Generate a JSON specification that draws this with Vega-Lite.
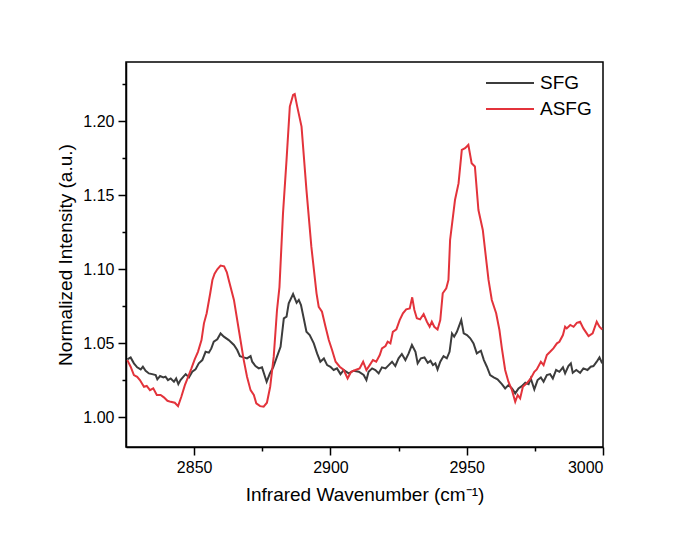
{
  "$schema": "https://vega.github.io/schema/vega-lite/v6.json",
  "width": 477,
  "height": 385,
  "autosize": {"type": "none"},
  "padding": {"left": 126, "top": 62, "right": 97, "bottom": 89},
  "background": "white",
  "datasets": {
    "spectra": [
      {"w": 2825.5, "v": 1.0392, "s": "SFG"},
      {"w": 2826.7, "v": 1.0405, "s": "SFG"},
      {"w": 2827.9, "v": 1.0365, "s": "SFG"},
      {"w": 2829.1, "v": 1.0338, "s": "SFG"},
      {"w": 2830.4, "v": 1.0324, "s": "SFG"},
      {"w": 2831.2, "v": 1.0342, "s": "SFG"},
      {"w": 2832.2, "v": 1.0315, "s": "SFG"},
      {"w": 2833.4, "v": 1.0297, "s": "SFG"},
      {"w": 2834.6, "v": 1.0292, "s": "SFG"},
      {"w": 2835.9, "v": 1.0286, "s": "SFG"},
      {"w": 2836.5, "v": 1.0257, "s": "SFG"},
      {"w": 2837.5, "v": 1.0279, "s": "SFG"},
      {"w": 2838.7, "v": 1.027, "s": "SFG"},
      {"w": 2839.5, "v": 1.0275, "s": "SFG"},
      {"w": 2840.4, "v": 1.0252, "s": "SFG"},
      {"w": 2841.4, "v": 1.0263, "s": "SFG"},
      {"w": 2842.6, "v": 1.0241, "s": "SFG"},
      {"w": 2843.4, "v": 1.0263, "s": "SFG"},
      {"w": 2844.2, "v": 1.0225, "s": "SFG"},
      {"w": 2845.0, "v": 1.0252, "s": "SFG"},
      {"w": 2846.0, "v": 1.0274, "s": "SFG"},
      {"w": 2846.9, "v": 1.0292, "s": "SFG"},
      {"w": 2848.1, "v": 1.027, "s": "SFG"},
      {"w": 2849.3, "v": 1.0308, "s": "SFG"},
      {"w": 2850.5, "v": 1.0324, "s": "SFG"},
      {"w": 2851.7, "v": 1.0365, "s": "SFG"},
      {"w": 2853.0, "v": 1.0387, "s": "SFG"},
      {"w": 2854.2, "v": 1.0443, "s": "SFG"},
      {"w": 2855.4, "v": 1.0437, "s": "SFG"},
      {"w": 2856.3, "v": 1.0466, "s": "SFG"},
      {"w": 2857.2, "v": 1.0511, "s": "SFG"},
      {"w": 2858.5, "v": 1.0527, "s": "SFG"},
      {"w": 2859.7, "v": 1.0567, "s": "SFG"},
      {"w": 2860.9, "v": 1.0545, "s": "SFG"},
      {"w": 2862.7, "v": 1.0522, "s": "SFG"},
      {"w": 2864.6, "v": 1.0489, "s": "SFG"},
      {"w": 2865.8, "v": 1.0455, "s": "SFG"},
      {"w": 2866.8, "v": 1.0414, "s": "SFG"},
      {"w": 2868.2, "v": 1.0405, "s": "SFG"},
      {"w": 2869.4, "v": 1.0398, "s": "SFG"},
      {"w": 2870.7, "v": 1.0414, "s": "SFG"},
      {"w": 2871.3, "v": 1.0376, "s": "SFG"},
      {"w": 2872.5, "v": 1.0347, "s": "SFG"},
      {"w": 2873.7, "v": 1.0331, "s": "SFG"},
      {"w": 2874.9, "v": 1.0338, "s": "SFG"},
      {"w": 2875.8, "v": 1.0286, "s": "SFG"},
      {"w": 2876.6, "v": 1.0241, "s": "SFG"},
      {"w": 2877.8, "v": 1.0297, "s": "SFG"},
      {"w": 2879.0, "v": 1.0338, "s": "SFG"},
      {"w": 2880.4, "v": 1.041, "s": "SFG"},
      {"w": 2881.7, "v": 1.0477, "s": "SFG"},
      {"w": 2882.9, "v": 1.0669, "s": "SFG"},
      {"w": 2883.9, "v": 1.068, "s": "SFG"},
      {"w": 2884.7, "v": 1.077, "s": "SFG"},
      {"w": 2886.3, "v": 1.0833, "s": "SFG"},
      {"w": 2887.6, "v": 1.0774, "s": "SFG"},
      {"w": 2888.4, "v": 1.0793, "s": "SFG"},
      {"w": 2889.2, "v": 1.0759, "s": "SFG"},
      {"w": 2890.2, "v": 1.0669, "s": "SFG"},
      {"w": 2891.2, "v": 1.0578, "s": "SFG"},
      {"w": 2892.4, "v": 1.0556, "s": "SFG"},
      {"w": 2893.9, "v": 1.05, "s": "SFG"},
      {"w": 2895.1, "v": 1.0432, "s": "SFG"},
      {"w": 2896.3, "v": 1.0376, "s": "SFG"},
      {"w": 2897.6, "v": 1.0398, "s": "SFG"},
      {"w": 2898.8, "v": 1.0353, "s": "SFG"},
      {"w": 2900.0, "v": 1.0342, "s": "SFG"},
      {"w": 2901.2, "v": 1.032, "s": "SFG"},
      {"w": 2902.4, "v": 1.0331, "s": "SFG"},
      {"w": 2903.7, "v": 1.0292, "s": "SFG"},
      {"w": 2904.9, "v": 1.032, "s": "SFG"},
      {"w": 2906.7, "v": 1.0297, "s": "SFG"},
      {"w": 2908.5, "v": 1.0315, "s": "SFG"},
      {"w": 2910.4, "v": 1.0308, "s": "SFG"},
      {"w": 2912.2, "v": 1.0286, "s": "SFG"},
      {"w": 2913.2, "v": 1.0252, "s": "SFG"},
      {"w": 2914.0, "v": 1.0308, "s": "SFG"},
      {"w": 2915.3, "v": 1.0331, "s": "SFG"},
      {"w": 2916.5, "v": 1.032, "s": "SFG"},
      {"w": 2917.7, "v": 1.0297, "s": "SFG"},
      {"w": 2918.9, "v": 1.0338, "s": "SFG"},
      {"w": 2920.2, "v": 1.0331, "s": "SFG"},
      {"w": 2921.4, "v": 1.0353, "s": "SFG"},
      {"w": 2922.6, "v": 1.0376, "s": "SFG"},
      {"w": 2923.8, "v": 1.0347, "s": "SFG"},
      {"w": 2925.0, "v": 1.0399, "s": "SFG"},
      {"w": 2926.2, "v": 1.0428, "s": "SFG"},
      {"w": 2927.5, "v": 1.0387, "s": "SFG"},
      {"w": 2928.7, "v": 1.0432, "s": "SFG"},
      {"w": 2929.9, "v": 1.0489, "s": "SFG"},
      {"w": 2931.2, "v": 1.0443, "s": "SFG"},
      {"w": 2932.0, "v": 1.0365, "s": "SFG"},
      {"w": 2933.2, "v": 1.0399, "s": "SFG"},
      {"w": 2934.5, "v": 1.0405, "s": "SFG"},
      {"w": 2935.7, "v": 1.0369, "s": "SFG"},
      {"w": 2936.7, "v": 1.0382, "s": "SFG"},
      {"w": 2937.6, "v": 1.0353, "s": "SFG"},
      {"w": 2938.5, "v": 1.0365, "s": "SFG"},
      {"w": 2939.3, "v": 1.0324, "s": "SFG"},
      {"w": 2940.3, "v": 1.0376, "s": "SFG"},
      {"w": 2941.5, "v": 1.0414, "s": "SFG"},
      {"w": 2942.7, "v": 1.0399, "s": "SFG"},
      {"w": 2943.7, "v": 1.0443, "s": "SFG"},
      {"w": 2944.6, "v": 1.0567, "s": "SFG"},
      {"w": 2945.4, "v": 1.0545, "s": "SFG"},
      {"w": 2946.4, "v": 1.0578, "s": "SFG"},
      {"w": 2948.0, "v": 1.0657, "s": "SFG"},
      {"w": 2948.9, "v": 1.0567, "s": "SFG"},
      {"w": 2950.1, "v": 1.0556, "s": "SFG"},
      {"w": 2951.3, "v": 1.0534, "s": "SFG"},
      {"w": 2952.5, "v": 1.05, "s": "SFG"},
      {"w": 2953.7, "v": 1.0432, "s": "SFG"},
      {"w": 2955.2, "v": 1.045, "s": "SFG"},
      {"w": 2956.3, "v": 1.0387, "s": "SFG"},
      {"w": 2957.4, "v": 1.0342, "s": "SFG"},
      {"w": 2958.6, "v": 1.0286, "s": "SFG"},
      {"w": 2959.9, "v": 1.027, "s": "SFG"},
      {"w": 2961.3, "v": 1.0257, "s": "SFG"},
      {"w": 2962.9, "v": 1.0225, "s": "SFG"},
      {"w": 2964.1, "v": 1.0196, "s": "SFG"},
      {"w": 2965.3, "v": 1.0218, "s": "SFG"},
      {"w": 2966.6, "v": 1.0196, "s": "SFG"},
      {"w": 2967.8, "v": 1.0162, "s": "SFG"},
      {"w": 2969.0, "v": 1.0196, "s": "SFG"},
      {"w": 2970.2, "v": 1.0211, "s": "SFG"},
      {"w": 2971.5, "v": 1.0234, "s": "SFG"},
      {"w": 2972.7, "v": 1.0225, "s": "SFG"},
      {"w": 2973.5, "v": 1.0263, "s": "SFG"},
      {"w": 2974.8, "v": 1.0189, "s": "SFG"},
      {"w": 2976.0, "v": 1.0252, "s": "SFG"},
      {"w": 2977.2, "v": 1.027, "s": "SFG"},
      {"w": 2978.2, "v": 1.0241, "s": "SFG"},
      {"w": 2979.4, "v": 1.0286, "s": "SFG"},
      {"w": 2980.6, "v": 1.0292, "s": "SFG"},
      {"w": 2981.6, "v": 1.0263, "s": "SFG"},
      {"w": 2982.8, "v": 1.032, "s": "SFG"},
      {"w": 2984.0, "v": 1.0308, "s": "SFG"},
      {"w": 2985.3, "v": 1.0338, "s": "SFG"},
      {"w": 2986.1, "v": 1.0297, "s": "SFG"},
      {"w": 2987.3, "v": 1.0347, "s": "SFG"},
      {"w": 2988.2, "v": 1.0365, "s": "SFG"},
      {"w": 2988.9, "v": 1.0301, "s": "SFG"},
      {"w": 2990.2, "v": 1.032, "s": "SFG"},
      {"w": 2991.6, "v": 1.0301, "s": "SFG"},
      {"w": 2992.8, "v": 1.0331, "s": "SFG"},
      {"w": 2994.3, "v": 1.032, "s": "SFG"},
      {"w": 2995.5, "v": 1.0342, "s": "SFG"},
      {"w": 2996.5, "v": 1.0347, "s": "SFG"},
      {"w": 2997.7, "v": 1.0376, "s": "SFG"},
      {"w": 2998.7, "v": 1.0405, "s": "SFG"},
      {"w": 2999.7, "v": 1.0365, "s": "SFG"},

      {"w": 2825.5, "v": 1.0387, "s": "ASFG"},
      {"w": 2826.7, "v": 1.0342, "s": "ASFG"},
      {"w": 2827.9, "v": 1.0286, "s": "ASFG"},
      {"w": 2829.1, "v": 1.0274, "s": "ASFG"},
      {"w": 2830.1, "v": 1.0252, "s": "ASFG"},
      {"w": 2831.6, "v": 1.0207, "s": "ASFG"},
      {"w": 2832.6, "v": 1.0212, "s": "ASFG"},
      {"w": 2833.8, "v": 1.0184, "s": "ASFG"},
      {"w": 2835.0, "v": 1.0196, "s": "ASFG"},
      {"w": 2836.3, "v": 1.0151, "s": "ASFG"},
      {"w": 2837.7, "v": 1.0151, "s": "ASFG"},
      {"w": 2838.9, "v": 1.0135, "s": "ASFG"},
      {"w": 2840.2, "v": 1.0112, "s": "ASFG"},
      {"w": 2841.4, "v": 1.0105, "s": "ASFG"},
      {"w": 2842.9, "v": 1.0099, "s": "ASFG"},
      {"w": 2844.1, "v": 1.0076, "s": "ASFG"},
      {"w": 2845.3, "v": 1.0139, "s": "ASFG"},
      {"w": 2846.6, "v": 1.0218, "s": "ASFG"},
      {"w": 2847.8, "v": 1.0274, "s": "ASFG"},
      {"w": 2849.0, "v": 1.0331, "s": "ASFG"},
      {"w": 2850.2, "v": 1.0392, "s": "ASFG"},
      {"w": 2851.4, "v": 1.0443, "s": "ASFG"},
      {"w": 2852.7, "v": 1.0522, "s": "ASFG"},
      {"w": 2853.6, "v": 1.0635, "s": "ASFG"},
      {"w": 2854.6, "v": 1.0703, "s": "ASFG"},
      {"w": 2855.9, "v": 1.0838, "s": "ASFG"},
      {"w": 2856.7, "v": 1.0928, "s": "ASFG"},
      {"w": 2857.5, "v": 1.097, "s": "ASFG"},
      {"w": 2858.5, "v": 1.1, "s": "ASFG"},
      {"w": 2859.7, "v": 1.1025, "s": "ASFG"},
      {"w": 2861.0, "v": 1.102, "s": "ASFG"},
      {"w": 2862.0, "v": 1.098, "s": "ASFG"},
      {"w": 2862.7, "v": 1.0928, "s": "ASFG"},
      {"w": 2864.6, "v": 1.0793, "s": "ASFG"},
      {"w": 2866.4, "v": 1.059, "s": "ASFG"},
      {"w": 2868.2, "v": 1.0387, "s": "ASFG"},
      {"w": 2869.4, "v": 1.0274, "s": "ASFG"},
      {"w": 2870.7, "v": 1.0184, "s": "ASFG"},
      {"w": 2871.9, "v": 1.0151, "s": "ASFG"},
      {"w": 2872.8, "v": 1.0095, "s": "ASFG"},
      {"w": 2874.2, "v": 1.0076, "s": "ASFG"},
      {"w": 2875.5, "v": 1.0072, "s": "ASFG"},
      {"w": 2876.7, "v": 1.0099, "s": "ASFG"},
      {"w": 2877.9, "v": 1.0207, "s": "ASFG"},
      {"w": 2879.2, "v": 1.041, "s": "ASFG"},
      {"w": 2880.4, "v": 1.0725, "s": "ASFG"},
      {"w": 2881.3, "v": 1.088, "s": "ASFG"},
      {"w": 2882.6, "v": 1.1378, "s": "ASFG"},
      {"w": 2883.9, "v": 1.1739, "s": "ASFG"},
      {"w": 2885.1, "v": 1.2099, "s": "ASFG"},
      {"w": 2886.3, "v": 1.2178, "s": "ASFG"},
      {"w": 2886.9, "v": 1.2184, "s": "ASFG"},
      {"w": 2887.8, "v": 1.21, "s": "ASFG"},
      {"w": 2889.4, "v": 1.1964, "s": "ASFG"},
      {"w": 2891.2, "v": 1.1536, "s": "ASFG"},
      {"w": 2893.0, "v": 1.1153, "s": "ASFG"},
      {"w": 2894.9, "v": 1.0838, "s": "ASFG"},
      {"w": 2895.7, "v": 1.0747, "s": "ASFG"},
      {"w": 2896.9, "v": 1.0714, "s": "ASFG"},
      {"w": 2898.2, "v": 1.0612, "s": "ASFG"},
      {"w": 2899.4, "v": 1.0522, "s": "ASFG"},
      {"w": 2900.6, "v": 1.0455, "s": "ASFG"},
      {"w": 2901.9, "v": 1.0376, "s": "ASFG"},
      {"w": 2903.4, "v": 1.0342, "s": "ASFG"},
      {"w": 2904.9, "v": 1.032, "s": "ASFG"},
      {"w": 2906.3, "v": 1.0263, "s": "ASFG"},
      {"w": 2907.6, "v": 1.0308, "s": "ASFG"},
      {"w": 2909.2, "v": 1.032, "s": "ASFG"},
      {"w": 2910.7, "v": 1.0331, "s": "ASFG"},
      {"w": 2912.0, "v": 1.0376, "s": "ASFG"},
      {"w": 2913.2, "v": 1.032, "s": "ASFG"},
      {"w": 2914.4, "v": 1.0353, "s": "ASFG"},
      {"w": 2915.6, "v": 1.0387, "s": "ASFG"},
      {"w": 2916.8, "v": 1.0376, "s": "ASFG"},
      {"w": 2918.1, "v": 1.0421, "s": "ASFG"},
      {"w": 2918.9, "v": 1.0466, "s": "ASFG"},
      {"w": 2920.2, "v": 1.0482, "s": "ASFG"},
      {"w": 2921.0, "v": 1.0511, "s": "ASFG"},
      {"w": 2922.0, "v": 1.05, "s": "ASFG"},
      {"w": 2922.9, "v": 1.0578, "s": "ASFG"},
      {"w": 2924.2, "v": 1.0594, "s": "ASFG"},
      {"w": 2925.4, "v": 1.0657, "s": "ASFG"},
      {"w": 2926.6, "v": 1.0703, "s": "ASFG"},
      {"w": 2927.8, "v": 1.073, "s": "ASFG"},
      {"w": 2929.1, "v": 1.0736, "s": "ASFG"},
      {"w": 2930.0, "v": 1.0811, "s": "ASFG"},
      {"w": 2930.8, "v": 1.0725, "s": "ASFG"},
      {"w": 2931.7, "v": 1.0669, "s": "ASFG"},
      {"w": 2932.9, "v": 1.0662, "s": "ASFG"},
      {"w": 2934.2, "v": 1.0698, "s": "ASFG"},
      {"w": 2935.4, "v": 1.0646, "s": "ASFG"},
      {"w": 2936.4, "v": 1.0612, "s": "ASFG"},
      {"w": 2937.2, "v": 1.0646, "s": "ASFG"},
      {"w": 2938.1, "v": 1.0612, "s": "ASFG"},
      {"w": 2939.3, "v": 1.0594, "s": "ASFG"},
      {"w": 2940.3, "v": 1.0657, "s": "ASFG"},
      {"w": 2941.2, "v": 1.0838, "s": "ASFG"},
      {"w": 2942.5, "v": 1.0872, "s": "ASFG"},
      {"w": 2943.3, "v": 1.0928, "s": "ASFG"},
      {"w": 2943.9, "v": 1.1198, "s": "ASFG"},
      {"w": 2945.7, "v": 1.1468, "s": "ASFG"},
      {"w": 2947.0, "v": 1.158, "s": "ASFG"},
      {"w": 2948.2, "v": 1.1806, "s": "ASFG"},
      {"w": 2949.4, "v": 1.1818, "s": "ASFG"},
      {"w": 2950.6, "v": 1.184, "s": "ASFG"},
      {"w": 2951.8, "v": 1.1716, "s": "ASFG"},
      {"w": 2953.0, "v": 1.1694, "s": "ASFG"},
      {"w": 2954.3, "v": 1.14, "s": "ASFG"},
      {"w": 2955.9, "v": 1.1266, "s": "ASFG"},
      {"w": 2957.3, "v": 1.104, "s": "ASFG"},
      {"w": 2958.0, "v": 1.0928, "s": "ASFG"},
      {"w": 2959.2, "v": 1.0793, "s": "ASFG"},
      {"w": 2960.8, "v": 1.0703, "s": "ASFG"},
      {"w": 2962.0, "v": 1.059, "s": "ASFG"},
      {"w": 2962.9, "v": 1.0466, "s": "ASFG"},
      {"w": 2964.1, "v": 1.032, "s": "ASFG"},
      {"w": 2965.3, "v": 1.0241, "s": "ASFG"},
      {"w": 2966.6, "v": 1.0184, "s": "ASFG"},
      {"w": 2967.8, "v": 1.0105, "s": "ASFG"},
      {"w": 2968.7, "v": 1.0151, "s": "ASFG"},
      {"w": 2969.6, "v": 1.0128, "s": "ASFG"},
      {"w": 2970.6, "v": 1.0207, "s": "ASFG"},
      {"w": 2972.0, "v": 1.023, "s": "ASFG"},
      {"w": 2973.5, "v": 1.0263, "s": "ASFG"},
      {"w": 2974.8, "v": 1.0308, "s": "ASFG"},
      {"w": 2975.7, "v": 1.0324, "s": "ASFG"},
      {"w": 2977.2, "v": 1.0376, "s": "ASFG"},
      {"w": 2978.2, "v": 1.0353, "s": "ASFG"},
      {"w": 2979.4, "v": 1.0421, "s": "ASFG"},
      {"w": 2980.6, "v": 1.0443, "s": "ASFG"},
      {"w": 2981.8, "v": 1.0466, "s": "ASFG"},
      {"w": 2983.1, "v": 1.05, "s": "ASFG"},
      {"w": 2984.0, "v": 1.0511, "s": "ASFG"},
      {"w": 2985.3, "v": 1.0556, "s": "ASFG"},
      {"w": 2986.1, "v": 1.0612, "s": "ASFG"},
      {"w": 2986.7, "v": 1.0601, "s": "ASFG"},
      {"w": 2988.0, "v": 1.0624, "s": "ASFG"},
      {"w": 2989.2, "v": 1.0612, "s": "ASFG"},
      {"w": 2990.4, "v": 1.0639, "s": "ASFG"},
      {"w": 2991.6, "v": 1.0646, "s": "ASFG"},
      {"w": 2992.8, "v": 1.0601, "s": "ASFG"},
      {"w": 2994.7, "v": 1.0549, "s": "ASFG"},
      {"w": 2996.2, "v": 1.0567, "s": "ASFG"},
      {"w": 2997.7, "v": 1.0646, "s": "ASFG"},
      {"w": 2998.7, "v": 1.0612, "s": "ASFG"},
      {"w": 2999.7, "v": 1.0594, "s": "ASFG"}
    ]
  },
  "data": {"name": "spectra"},
  "mark": {"type": "line", "strokeWidth": 2, "clip": true},
  "encoding": {
    "x": {
      "field": "w",
      "type": "quantitative",
      "scale": {"domain": [2825, 3000], "nice": false, "zero": false},
      "axis": {
        "title": "Infrared Wavenumber (cm⁻¹)",
        "values": [2850, 2875, 2900, 2925, 2950, 2975, 3000],
        "labelExpr": "datum.value % 50 === 0 ? datum.label : ''",
        "format": "d",
        "grid": false,
        "tickSize": {"condition": {"test": "datum.value % 50 !== 0", "value": 4}, "value": 8},
        "titlePadding": 10
      }
    },
    "y": {
      "field": "v",
      "type": "quantitative",
      "scale": {"domain": [0.98, 1.24], "nice": false, "zero": false},
      "axis": {
        "title": "Normalized Intensity (a.u.)",
        "values": [1.0, 1.025, 1.05, 1.075, 1.1, 1.125, 1.15, 1.175, 1.2, 1.225],
        "labelExpr": "abs(round(datum.value * 1000) % 50) < 1 ? datum.label : ''",
        "format": ".2f",
        "grid": false,
        "tickSize": {"condition": {"test": "abs(round(datum.value * 1000) % 50) >= 1", "value": 4}, "value": 8},
        "titlePadding": 7
      }
    },
    "color": {
      "field": "s",
      "type": "nominal",
      "scale": {"domain": ["SFG", "ASFG"], "range": ["#3c3c3c", "#e3333b"]},
      "legend": {
        "title": null,
        "orient": "none",
        "legendX": 359,
        "legendY": 8,
        "symbolType": "stroke",
        "symbolSize": 2304,
        "symbolStrokeWidth": 2,
        "clipHeight": 26,
        "rowPadding": 0,
        "labelOffset": 5,
        "labelFontSize": 19,
        "labelFont": "Liberation Sans",
        "labelColor": "black",
        "padding": 0
      }
    }
  },
  "config": {
    "view": {"stroke": "black", "strokeWidth": 1.5},
    "axis": {
      "domainColor": "black",
      "domainWidth": 1.5,
      "tickColor": "black",
      "tickWidth": 1.5,
      "labelFont": "Liberation Sans",
      "labelFontSize": 16,
      "labelColor": "black",
      "labelPadding": 4,
      "titleFont": "Liberation Sans",
      "titleFontSize": 19,
      "titleFontWeight": "normal",
      "titleColor": "black"
    }
  }
}
